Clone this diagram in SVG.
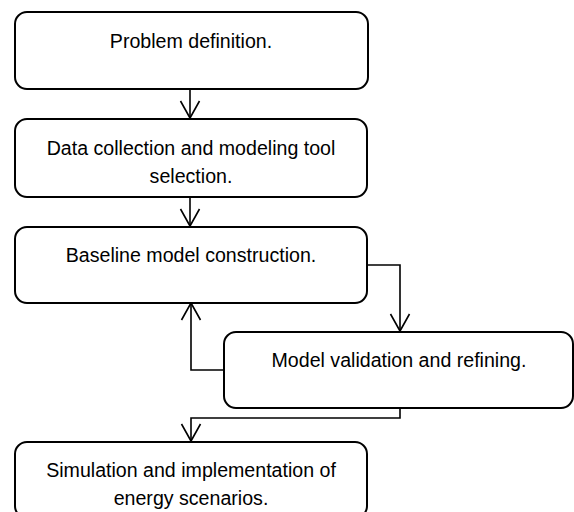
<svg xmlns="http://www.w3.org/2000/svg" width="574" height="512" viewBox="0 0 574 512">
  <style>
    .box { fill: #ffffff; stroke: #000000; stroke-width: 2; }
    .lbl { font-family: "Liberation Sans", Arial, sans-serif; font-size: 19.6px; fill: #000000; text-anchor: middle; }
    .conn { fill: none; stroke: #000000; stroke-width: 1.6; }
  </style>
  <defs>
    <marker id="vee" viewBox="-19 -11 21 22" refX="0" refY="0" markerWidth="21" markerHeight="22" markerUnits="userSpaceOnUse" orient="auto" overflow="visible">
      <path d="M-17,-9.5 L0,0 L-17,9.5" fill="none" stroke="#000000" stroke-width="1.6"/>
    </marker>
  </defs>
  <rect width="574" height="512" fill="#ffffff"/>

  <g id="connectors">
    <path class="conn" d="M190,89 L190,118" marker-end="url(#vee)"/>
    <path class="conn" d="M190,197 L190,226" marker-end="url(#vee)"/>
    <path class="conn" d="M367,265 L400,265 L400,331" marker-end="url(#vee)"/>
    <path class="conn" d="M224,370 L191,370 L191,303" marker-end="url(#vee)"/>
    <path class="conn" d="M400,408 L400,418 L191,418 L191,441" marker-end="url(#vee)"/>
  </g>

  <g id="node-problem">
    <rect class="box" x="15" y="12" width="353" height="77" rx="12"/>
    <text class="lbl" x="191" y="48">Problem definition.</text>
  </g>
  <g id="node-data">
    <rect class="box" x="15" y="119" width="352" height="78" rx="12"/>
    <text class="lbl" x="191" y="155">Data collection and modeling tool</text>
    <text class="lbl" x="191" y="183">selection.</text>
  </g>
  <g id="node-baseline">
    <rect class="box" x="15" y="227" width="352" height="76" rx="12"/>
    <text class="lbl" x="191" y="262">Baseline model construction.</text>
  </g>
  <g id="node-validation">
    <rect class="box" x="224" y="332" width="349" height="76" rx="12"/>
    <text class="lbl" x="399" y="367">Model validation and refining.</text>
  </g>
  <g id="node-simulation">
    <rect class="box" x="15" y="442" width="352" height="76" rx="12"/>
    <text class="lbl" x="191" y="477">Simulation and implementation of</text>
    <text class="lbl" x="191" y="505">energy scenarios.</text>
  </g>
</svg>
